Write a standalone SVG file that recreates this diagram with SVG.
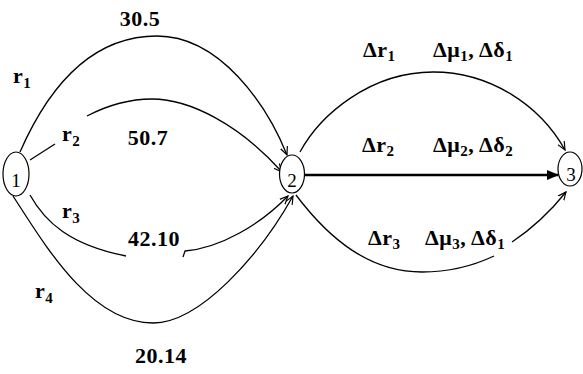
<svg xmlns="http://www.w3.org/2000/svg" width="583" height="374" viewBox="0 0 583 374">
<style>
.e{fill:none;stroke:#000;stroke-width:1.3}
.n{fill:#fff;stroke:#000;stroke-width:1.2}
.nt{font-family:"Liberation Serif","Times New Roman",serif;font-size:19px;text-anchor:middle}
.lb{font-family:"Liberation Serif","Times New Roman",serif;font-weight:bold;font-size:22px;letter-spacing:0.5px}
.s{font-size:15px}
.m{text-anchor:middle}
</style>
<defs>
<marker id="a" viewBox="0 0 10 10" refX="9" refY="5" markerWidth="7" markerHeight="7" orient="auto"><path d="M0,1 L9,5 L0,9" fill="none" stroke="#000" stroke-width="1.3"/></marker>
<marker id="f" viewBox="0 0 10 10" refX="9" refY="5" markerWidth="5" markerHeight="5" orient="auto"><path d="M0,1 L10,5 L0,9 Z" fill="#000"/></marker>
</defs>
<g id="connectors">
<path class="e" d="M20,152 C45,95 87,36 157,36 C220,36 267,105 287,155" marker-end="url(#a)"/>
<path class="e" d="M30,160 L55,144"/>
<path class="e" d="M87,116 C110,104 130,99 152,99 C190,99 240,125 282,172" marker-end="url(#a)"/>
<path class="e" d="M30,195 C45,222 70,245 126,256"/>
<path class="e" d="M183,257 L185,251 C220,248 260,225 288,196" marker-end="url(#a)"/>
<path class="e" d="M13,196 C45,245 90,323 153,323 C200,323 260,255 293,196" marker-end="url(#a)"/>
<path class="e" d="M300,152 C320,115 370,72 433,72 C490,72 540,105 565,150" marker-end="url(#a)"/>
<path d="M305,175 L558,175" stroke="#000" stroke-width="2.5" fill="none" marker-end="url(#f)"/>
<path class="e" d="M296,195 C330,240 370,272 422,272 C450,272 475,265 494,256"/>
<path class="e" d="M512,242 C530,230 550,212 566,192" marker-end="url(#a)"/>
</g>
<g id="node1"><ellipse class="n" cx="16" cy="174" rx="13" ry="22"/><text class="nt" x="16" y="187">1</text></g>
<g id="node2"><ellipse class="n" cx="292" cy="174" rx="12.5" ry="19"/><text class="nt" x="292" y="187">2</text></g>
<g id="node3"><ellipse class="n" cx="570" cy="169" rx="12" ry="17"/><text class="nt" x="571" y="181">3</text></g>
<g id="labels" class="lb">
<text class="m" x="140" y="26">30.5</text>
<text class="m" x="148" y="145">50.7</text>
<text class="m" x="154" y="246">42.10</text>
<text class="m" x="161" y="363">20.14</text>
<text x="13" y="83">r<tspan class="s" dy="5">1</tspan></text>
<text x="62" y="141">r<tspan class="s" dy="5">2</tspan></text>
<text x="62" y="218">r<tspan class="s" dy="5">3</tspan></text>
<text x="35" y="298">r<tspan class="s" dy="5">4</tspan></text>
<text x="363" y="57">Δr<tspan class="s" dy="4">1</tspan></text>
<text x="433" y="57">Δμ<tspan class="s" dy="4">1</tspan><tspan dy="-4">, Δδ</tspan><tspan class="s" dy="4">1</tspan></text>
<text x="362" y="152">Δr<tspan class="s" dy="4">2</tspan></text>
<text x="433" y="152">Δμ<tspan class="s" dy="4">2</tspan><tspan dy="-4">, Δδ</tspan><tspan class="s" dy="4">2</tspan></text>
<text x="368" y="245">Δr<tspan class="s" dy="4">3</tspan></text>
<text x="425" y="245">Δμ<tspan class="s" dy="4">3</tspan><tspan dy="-4">, Δδ</tspan><tspan class="s" dy="4">1</tspan></text>
</g>
</svg>
